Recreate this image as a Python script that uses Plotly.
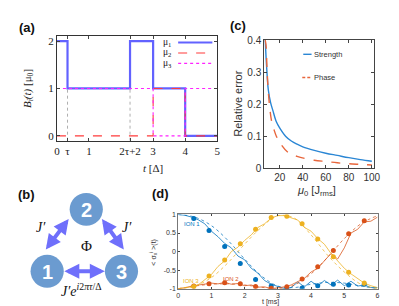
import plotly.graph_objects as go

W, H = 399, 306
def PX(x): return x / W
def PY(y): return 1 - y / H

# ---------------- Panel (a) data ----------------
a_t = [0, 0.33, 2.28, 3, 4, 5]          # breakpoints: 0, tau, 2tau+2, 3, 4, 5
mu1 = [2, 1, 2, 1, 0, 0]
mu2 = [0, 0, 0, 1, 0, 0]
mu3 = [1, 1, 1, 0, 1, 1]
a_tickvals = [0, 0.33, 1, 2.28, 3, 4, 5]
a_ticktext = ["0", "τ", "1", "2τ+2", "3", "4", "5"]
a_guides = [0.33, 2.28]

# ---------------- Panel (c) data ----------------
c_mu0_s = [7.3, 8, 9, 10, 12, 14, 17, 20, 25, 30, 35, 40, 50, 60, 70, 80, 90, 100]
c_strength = [0.40, 0.35, 0.29, 0.245, 0.205, 0.18, 0.145, 0.125, 0.10, 0.085, 0.075,
              0.067, 0.056, 0.047, 0.040, 0.033, 0.027, 0.022]
c_mu0_p = [7.3, 8, 9, 10, 11.5, 13, 15, 17, 20, 27, 35, 50, 60, 70, 80, 90, 100]
c_phase = [0.40, 0.385, 0.30, 0.24, 0.18, 0.145, 0.12, 0.10, 0.08, 0.05, 0.037, 0.025,
           0.021, 0.017, 0.014, 0.012, 0.010]

# ---------------- Panel (d) data ----------------
d_t_mk = [0.47, 0.93, 1.4, 1.87, 2.33, 2.8, 3.27, 3.73, 4.2, 4.67, 5.13, 5.6]
ion1_mk = [0.89, 0.57, 0.14, -0.32, -0.75, -0.93, -1.0, -0.98, -0.92, -0.88, -0.9, -0.88]
ion2_mk = [-0.93, -0.87, -0.84, -0.87, -0.94, -0.99, -0.95, -0.74, -0.41, 0.03, 0.48, 0.83]
ion3_mk = [-0.94, -0.66, -0.23, 0.21, 0.6, 0.92, 0.95, 0.75, 0.34, -0.14, -0.56, -0.85]

d_t_exp = [0, 0.2, 0.4, 0.6, 0.8, 1.0, 1.2, 1.4, 1.6, 1.8, 2.0, 2.2, 2.4, 2.6, 2.8, 3.0,
           3.2, 3.4, 3.6, 3.8, 4.0, 4.2, 4.4, 4.6, 4.8, 5.0, 5.2, 5.4, 5.6, 5.8, 6.0]
ion1_exp = [1.0, 0.98, 0.93, 0.86, 0.75, 0.55, 0.40, 0.22, 0.10, -0.12, -0.22, -0.45, -0.58,
            -0.78, -0.88, -0.95, -1.0, -0.97, -0.82, -0.95, -0.80, -0.93, -0.78, -0.90,
            -0.77, -0.92, -0.80, -0.93, -0.90, -0.97, -0.97]
ion2_exp = [-1.0, -0.98, -0.93, -0.90, -0.88, -0.85, -0.87, -0.83, -0.88, -0.86, -0.92,
            -0.90, -0.96, -0.95, -1.0, -0.98, -0.95, -0.90, -0.82, -0.72, -0.55, -0.45,
            -0.25, -0.05, -0.20, 0.10, 0.50, 0.60, 0.80, 0.82, 0.93]
ion3_exp = [-1.0, -0.98, -0.95, -0.90, -0.75, -0.62, -0.40, -0.25, 0.0, 0.12, 0.30, 0.45,
            0.65, 0.75, 0.90, 0.97, 0.97, 0.90, 0.85, 0.65, 0.55, 0.35, 0.20, -0.05, -0.25,
            -0.45, -0.60, -0.72, -0.85, -0.92, -0.97]

d_t_th = [0, 0.5, 1.0, 1.5, 2.0, 2.5, 3.0, 3.5, 4.0, 4.5, 5.0, 5.5, 6.0]
ion1_th = [1.0, 0.93, 0.70, 0.30, -0.20, -0.65, -0.93, -0.97, -0.88, -0.83, -0.85, -0.93, -1.0]
ion2_th = [-1.0, -0.93, -0.88, -0.87, -0.90, -0.96, -1.0, -0.90, -0.60, -0.15, 0.35, 0.75, 0.97]
ion3_th = [-1.0, -0.93, -0.70, -0.30, 0.20, 0.65, 0.97, 0.90, 0.45, -0.10, -0.55, -0.88, -1.0]

C_BLUE, C_RED, C_YEL = "#0072BD", "#D95319", "#EDB120"

fig = go.Figure()

# ---- panel (a) traces
fig.add_trace(go.Scatter(x=a_t, y=mu1, mode="lines", line=dict(color="rgba(70,70,255,0.85)", width=2.2, shape="hv"),
                         xaxis="x", yaxis="y", showlegend=False))
fig.add_trace(go.Scatter(x=a_t, y=mu2, mode="lines", line=dict(color="#ff3b3b", width=1.1, dash="dash", shape="hv"),
                         xaxis="x", yaxis="y", showlegend=False))
fig.add_trace(go.Scatter(x=a_t, y=mu3, mode="lines", line=dict(color="#ff22ff", width=1.1, dash="dot", shape="hv"),
                         xaxis="x", yaxis="y", showlegend=False))

# ---- panel (c) traces
fig.add_trace(go.Scatter(x=c_mu0_s, y=c_strength, mode="lines", line=dict(color="#2a86d4", width=1.4, shape="spline"),
                         xaxis="x2", yaxis="y2", showlegend=False))
fig.add_trace(go.Scatter(x=c_mu0_p, y=c_phase, mode="lines", line=dict(color="#e8663c", width=1.4, dash="dash", shape="spline"),
                         xaxis="x2", yaxis="y2", showlegend=False))

# ---- panel (d) traces
for col, th, ex, mk in [(C_BLUE, ion1_th, ion1_exp, ion1_mk),
                        (C_RED, ion2_th, ion2_exp, ion2_mk),
                        (C_YEL, ion3_th, ion3_exp, ion3_mk)]:
    fig.add_trace(go.Scatter(x=d_t_th, y=th, mode="lines", line=dict(color=col, width=0.9, dash="dot", shape="spline"),
                             opacity=0.8, xaxis="x3", yaxis="y3", showlegend=False))
    fig.add_trace(go.Scatter(x=d_t_exp, y=ex, mode="lines", line=dict(color=col, width=0.9),
                             opacity=0.85, xaxis="x3", yaxis="y3", showlegend=False))
    fig.add_trace(go.Scatter(x=d_t_mk, y=mk, mode="markers", marker=dict(color=col, size=5),
                             error_y=dict(type="constant", value=0.05, thickness=1, width=0, color=col),
                             xaxis="x3", yaxis="y3", showlegend=False))

shapes = []
annotations = []

def note(x, y, text, font, xanchor="center", yanchor="middle", **kw):
    annotations.append(dict(xref="paper", yref="paper", x=PX(x), y=PY(y), text=text, showarrow=False,
                            xanchor=xanchor, yanchor=yanchor, font=font, **kw))

# guides in (a)
for g in a_guides:
    shapes.append(dict(type="line", xref="x", yref="y", x0=g, x1=g, y0=-0.102, y1=1,
                       line=dict(color="#999999", width=0.8, dash="dot"), layer="below"))

# legend (a)
leg_a = [("μ<sub>1</sub>", dict(color="rgba(70,70,255,0.85)", width=2)),
         ("μ<sub>2</sub>", dict(color="#ff3b3b", width=1.1, dash="dash")),
         ("μ<sub>3</sub>", dict(color="#ff22ff", width=1.1, dash="dot"))]
for i, (txt, ln) in enumerate(leg_a):
    yy = 30.5 + i * 10.8
    shapes.append(dict(type="line", xref="paper", yref="paper", x0=PX(171), x1=PX(206), y0=PY(yy), y1=PY(yy), line=ln))
    note(153, yy, txt, dict(family="Liberation Serif", size=9.5, color="#222"), xanchor="left")

# legend (c)
shapes.append(dict(type="line", xref="paper", yref="paper", x0=PX(299), x1=PX(307.5), y0=PY(42.7), y1=PY(42.7),
                   line=dict(color="#2a86d4", width=1.4)))
shapes.append(dict(type="line", xref="paper", yref="paper", x0=PX(298), x1=PX(307), y0=PY(66.7), y1=PY(66.7),
                   line=dict(color="#e8663c", width=1.4, dash="3px,2px")))
note(307.5, 42.7, "Strength", dict(family="Liberation Sans", size=7.5, color="#333"), xanchor="left")
note(307.5, 66.7, "Phase", dict(family="Liberation Sans", size=7.5, color="#333"), xanchor="left")

# panel labels
for txt, x, y in [("(a)", 16, 15), ("(c)", 232, 13), ("(b)", 16, 188), ("(d)", 153, 187)]:
    note(x, y, "<b>" + txt + "</b>", dict(family="Liberation Sans", size=13, color="#111"))

# axis titles (a)
note(18, 78, "<i>B<sub>i</sub>(t)</i> [μ<sub>0</sub>]", dict(family="Liberation Serif", size=11, color="#222"),
     textangle=-90)
note(145, 160, "<i>t</i> [Δ]", dict(family="Liberation Serif", size=11, color="#222"))
# axis titles (c)
note(232, 94, "Relative error", dict(family="Liberation Sans", size=11, color="#333"), textangle=-90)
note(313, 184, "<i>μ</i><sub>0</sub> [J<sub>rms</sub>]", dict(family="Liberation Sans", size=11, color="#333"))
# axis titles (d)
note(146, 247, "< σ<sub>x</sub><sup>i</sup> >(t)", dict(family="Liberation Sans", size=7, color="#333"),
     textangle=-90)
note(265, 298.5, "t [ms]", dict(family="Liberation Sans", size=7, color="#333"))
# ion labels
for txt, x, y, col in [("ION 1", 175, 218, C_BLUE), ("ION 2", 215, 275, C_RED), ("ION 3", 174, 277, C_YEL)]:
    note(x, y, txt, dict(family="Liberation Sans", size=6, color=col), xanchor="left")

# ---- panel (b) diagram
node_col = "#6b9bd0"
arrow_col = "#6f6ffb"
nodes = [("2", 77, 203), ("1", 37, 267), ("3", 113, 267)]
R = 17
for lab, cx, cy in nodes:
    shapes.append(dict(type="circle", xref="paper", yref="paper", x0=PX(cx - R), x1=PX(cx + R),
                       y0=PY(cy + R), y1=PY(cy - R), fillcolor=node_col, line=dict(width=0)))
    note(cx, cy + 1, "<b>" + lab + "</b>", dict(family="Liberation Sans", size=20, color="white"))
for (x0, y0, x1, y1) in [(35, 245, 59, 213), (116, 245, 93, 213), (54, 267, 96, 267)]:
    annotations.append(dict(xref="paper", yref="paper", x=PX(x1), y=PY(y1), axref="pixel", ayref="pixel",
                            ax=x0 - x1, ay=y0 - y1, text="", showarrow=True, arrowhead=2, arrowside="end+start",
                            arrowsize=0.75, arrowwidth=4, arrowcolor=arrow_col, standoff=0, startstandoff=0))
note(31, 222, "<i>J′</i>", dict(family="Liberation Serif", size=14, color="#111"))
note(119, 222, "<i>J′</i>", dict(family="Liberation Serif", size=14, color="#111"))
note(77, 241, "Φ", dict(family="Liberation Serif", size=15, color="#111"))
note(72, 286, "<i>J′e</i><sup><i>i</i>2<i>πτ</i>/Δ</sup>", dict(family="Liberation Serif", size=14, color="#111"))

serif_tick = dict(family="Liberation Serif", size=11, color="#222")
sans_tick = dict(family="Liberation Sans", size=10, color="#333")
d_tick = dict(family="Liberation Sans", size=7, color="#333")

fig.update_layout(
    width=W, height=H, margin=dict(l=0, r=0, t=0, b=0),
    paper_bgcolor="white", plot_bgcolor="white", showlegend=False,
    xaxis=dict(domain=[PX(47), PX(211)], anchor="y", range=[0, 5], tickvals=a_tickvals, ticktext=a_ticktext,
               ticks="inside", ticklen=3, mirror="ticks", showline=True, linecolor="#333", linewidth=1,
               showgrid=False, zeroline=False, tickfont=serif_tick),
    yaxis=dict(domain=[PY(132), PY(24)], anchor="x", range=[-0.102, 2.102], tickvals=[0, 1, 2],
               ticks="inside", ticklen=3, mirror="ticks", showline=True, linecolor="#333", linewidth=1,
               showgrid=False, zeroline=False, tickfont=serif_tick),
    xaxis2=dict(domain=[PX(259), PX(371.5)], anchor="y2", range=[6.4, 102], tickvals=[20, 40, 60, 80, 100],
                ticks="inside", ticklen=3, mirror="ticks", showline=True, linecolor="#444", linewidth=0.8,
                showgrid=False, zeroline=False, tickfont=sans_tick),
    yaxis2=dict(domain=[PY(160.5), PY(28)], anchor="x2", range=[0, 0.4], tickvals=[0, 0.1, 0.2, 0.3, 0.4],
                ticktext=["0", "0.1", "0.2", "0.3", "0.4"],
                ticks="inside", ticklen=3, mirror="ticks", showline=True, linecolor="#444", linewidth=0.8,
                showgrid=False, zeroline=False, tickfont=sans_tick),
    xaxis3=dict(domain=[PX(171), PX(375)], anchor="y3", range=[0, 6], tickvals=[0, 1, 2, 3, 4, 5, 6],
                ticks="inside", ticklen=2, mirror="ticks", showline=True, linecolor="#777", linewidth=0.8,
                showgrid=False, zeroline=False, tickfont=d_tick),
    yaxis3=dict(domain=[PY(285), PY(208.3)], anchor="x3", range=[-1, 1], tickvals=[-1, -0.5, 0, 0.5, 1],
                ticktext=["-1", "-0.5", "0", "0.5", "1"],
                ticks="inside", ticklen=2, mirror="ticks", showline=True, linecolor="#777", linewidth=0.8,
                showgrid=False, zeroline=False, tickfont=d_tick),
    shapes=shapes, annotations=annotations,
)

fig.write_html("out.html")
